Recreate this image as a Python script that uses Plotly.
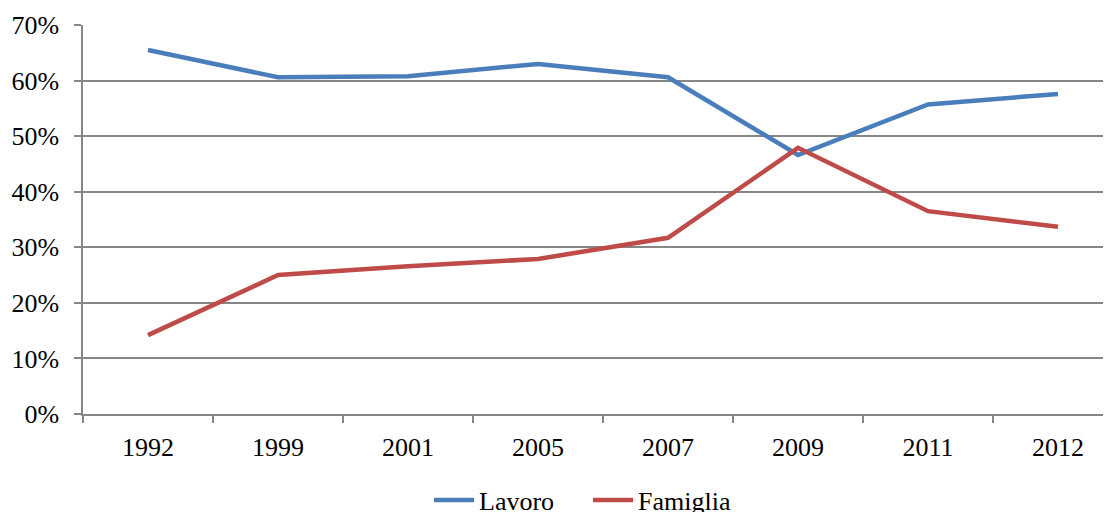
import plotly.graph_objects as go

years = ["1992", "1999", "2001", "2005", "2007", "2009", "2011", "2012"]
lavoro = [0.655, 0.606, 0.608, 0.630, 0.606, 0.466, 0.557, 0.576]
famiglia = [0.142, 0.250, 0.266, 0.279, 0.317, 0.479, 0.365, 0.337]
y_ticks = [0, 0.1, 0.2, 0.3, 0.4, 0.5, 0.6, 0.7]

FONT = "Liberation Serif, Times New Roman, serif"
FS = 26

fig = go.Figure()
fig.add_trace(go.Scatter(x=years, y=lavoro, mode="lines", name="Lavoro",
                         line=dict(color="#4A7EBB", width=4.5)))
fig.add_trace(go.Scatter(x=years, y=famiglia, mode="lines", name="Famiglia",
                         line=dict(color="#BE4B48", width=4.5)))

fig.update_layout(
    width=1111, height=512,
    margin=dict(l=75, r=0, t=17, b=106, autoexpand=False),
    plot_bgcolor="white", paper_bgcolor="white",
    font=dict(family=FONT, size=FS, color="black"),
    showlegend=True,
    legend=dict(orientation="h", x=0.334, xanchor="left",
                yref="container", y=0.085, yanchor="top",
                font=dict(family=FONT, size=FS, color="black"),
                itemwidth=40, tracegroupgap=0,
                entrywidth=104, entrywidthmode="pixels"),
    xaxis=dict(type="category", range=[-0.5, 7.469], automargin=False,
               showgrid=False, showline=True, linecolor="#878787", linewidth=1.5,
               ticks="outside", tickson="boundaries", ticklen=7, tickcolor="#878787",
               tickwidth=1.5, tickfont=dict(family=FONT, size=FS),
               ticklabelstandoff=9),
    yaxis=dict(range=[0, 0.7], tickvals=y_ticks, tickformat=".0%", automargin=False,
               showgrid=True, gridcolor="#878787", gridwidth=1.5,
               showline=True, linecolor="#878787", linewidth=1.5,
               ticks="outside", ticklen=7, tickcolor="#878787", tickwidth=1.5,
               zeroline=False, tickfont=dict(family=FONT, size=FS),
               ticklabelstandoff=10),
)

fig.write_html("out.html")
